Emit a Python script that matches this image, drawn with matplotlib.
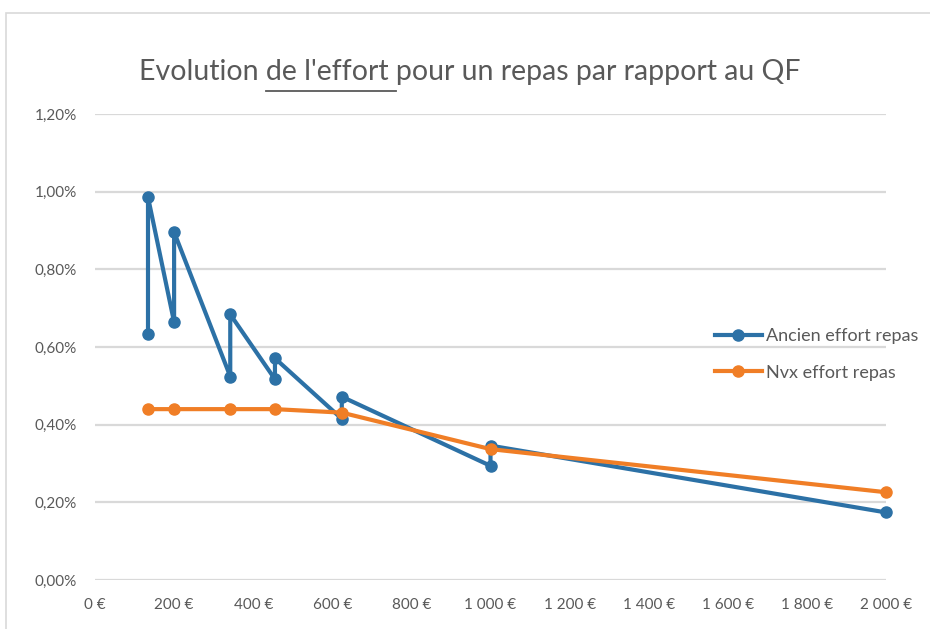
import matplotlib
matplotlib.use("Agg")
import matplotlib.pyplot as plt
from matplotlib.lines import Line2D
from matplotlib.patches import Rectangle
from matplotlib.ticker import FixedLocator, FuncFormatter

# ---- data ----
title_parts = ["Evolution ", "de l'effort ", "pour un repas par rapport au QF"]
series_names = ["Ancien effort repas", "Nvx effort repas"]
qf_ancien = [134, 134, 200, 200, 342, 342, 455, 455, 624, 624, 1000, 1000, 2000]
effort_ancien = [0.634, 0.986, 0.664, 0.896, 0.524, 0.684, 0.517, 0.571, 0.415, 0.472, 0.294, 0.346, 0.174]
qf_nvx = [134, 200, 342, 455, 624, 1000, 2000]
effort_nvx = [0.440, 0.440, 0.440, 0.440, 0.431, 0.337, 0.226]
x_ticks = [0, 200, 400, 600, 800, 1000, 1200, 1400, 1600, 1800, 2000]
y_ticks = [0.0, 0.2, 0.4, 0.6, 0.8, 1.0, 1.2]

BLUE = "#2C71A6"
ORANGE = "#F07E26"
GREY_TXT = "#595959"
GRID = "#D9D9D9"

plt.rcParams['font.family'] = ['Lato', 'DejaVu Sans']

W, H = 930, 629
fig = plt.figure(figsize=(W / 100, H / 100), dpi=100)

# chart border (cropped at right/bottom)
fig.patches.append(Rectangle((6 / W, -0.1), 1.2, (H - 13) / H + 0.1, transform=fig.transFigure,
                             fill=False, edgecolor=GRID, lw=1.2))

ax = fig.add_axes([95 / W, 49 / H, 791 / W, 466 / H])
ax.set_xlim(0, 2000)
ax.set_ylim(0, 1.2)
for s in ax.spines.values():
    s.set_visible(False)
ax.xaxis.set_major_locator(FixedLocator(x_ticks))
ax.yaxis.set_major_locator(FixedLocator(y_ticks))


def fmt_eur(v, pos):
    s = f"{int(round(v)):,}".replace(",", " ")
    return s + " €"


def fmt_pct(v, pos):
    return f"{v:.2f}%".replace(".", ",")


ax.xaxis.set_major_formatter(FuncFormatter(fmt_eur))
ax.yaxis.set_major_formatter(FuncFormatter(fmt_pct))
ax.tick_params(axis='both', length=0, labelsize=11, labelcolor=GREY_TXT)
ax.tick_params(axis='y', pad=13)
ax.tick_params(axis='x', pad=13)
ax.yaxis.grid(True, color=GRID, lw=1.6)
ax.set_axisbelow(True)

ax.plot(qf_ancien, effort_ancien, color=BLUE, lw=3, marker='o', markersize=8,
        solid_joinstyle='round', clip_on=False, zorder=3, label=series_names[0])
ax.plot(qf_nvx, effort_nvx, color=ORANGE, lw=3, marker='o', markersize=8,
        solid_joinstyle='round', clip_on=False, zorder=4, label=series_names[1])

leg = ax.legend(loc='upper left', bbox_to_anchor=(715 / W, 1 - 328 / H),
                bbox_transform=fig.transFigure, frameon=False, fontsize=13,
                handlelength=2.6, handletextpad=0.2, labelspacing=1.15,
                borderpad=0, borderaxespad=0)
for t in leg.get_texts():
    t.set_color(GREY_TXT)

# ---- title with underlined part ----
full_title = "".join(title_parts)
tprops = dict(fontsize=20.5, color=GREY_TXT, fontweight='normal')
cx, base_y = 470 / W, 1 - 80 / H
title = fig.text(cx, base_y, full_title, ha='center', va='baseline', **tprops)
fig.canvas.draw()
r = fig.canvas.get_renderer()


def width_of(s):
    t = fig.text(0, 0, s, **tprops)
    w = t.get_window_extent(r).width
    t.remove()
    return w


bb = title.get_window_extent(r)
left = bb.x0
pre = title_parts[0] + title_parts[1][:2]
x_start = left + width_of(pre) - width_of(title_parts[1][:2])
pre2 = title_parts[0] + title_parts[1] + title_parts[2][0]
x_end = left + width_of(pre2) - width_of(title_parts[2][0])
uy = (H - 91) / H
fig.lines.append(Line2D([x_start / W, x_end / W], [uy, uy], transform=fig.transFigure,
                        color=GREY_TXT, lw=1.3))

fig.savefig("out.png", dpi=100)
